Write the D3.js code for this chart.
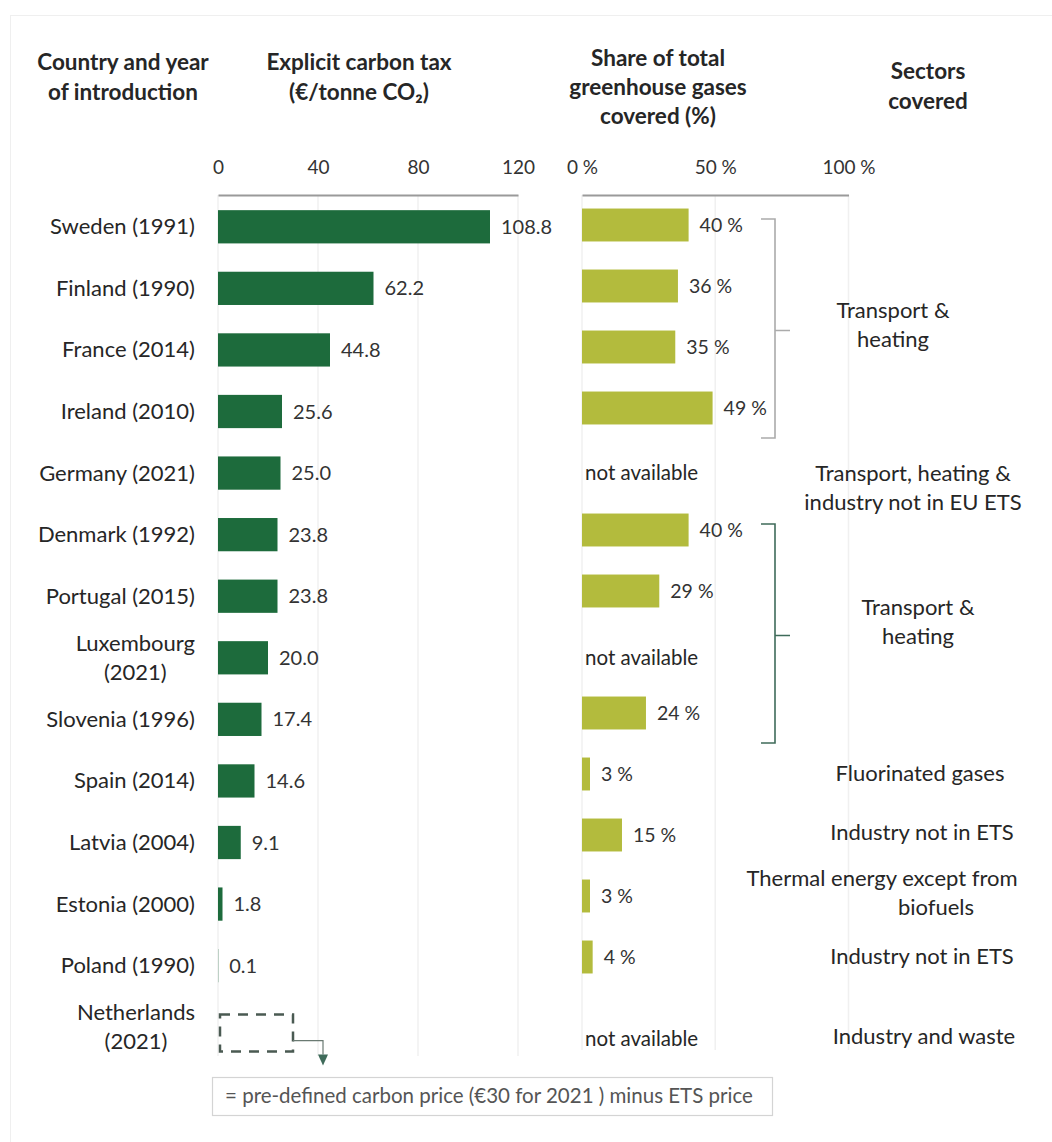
<!DOCTYPE html>
<html>
<head>
<meta charset="utf-8">
<script src="https://cdn.jsdelivr.net/npm/d3@7"></script>
<style>
  html, body { margin: 0; padding: 0; background: #fff; }
  svg { display: block; font-family: Lato, "Open Sans", sans-serif; }
</style>
</head>
<body>
<svg id="chart" width="1052" height="1142"></svg>
<script>
// Explicit carbon taxes in EU member states
const countries = ["Sweden", "Finland", "France", "Ireland", "Germany", "Denmark", "Portugal",
  "Luxembourg", "Slovenia", "Spain", "Latvia", "Estonia", "Poland", "Netherlands"];
const introYears = [1991, 1990, 2014, 2010, 2021, 1992, 2015, 2021, 1996, 2014, 2004, 2000, 1990, 2021];
// €/tonne CO2 (Netherlands: no fixed rate)
const taxRates = [108.8, 62.2, 44.8, 25.6, 25.0, 23.8, 23.8, 20.0, 17.4, 14.6, 9.1, 1.8, 0.1, null];
// share of total greenhouse gas emissions covered, %
const ghgShares = [40, 36, 35, 49, null, 40, 29, null, 24, 3, 15, 3, 4, null];
// Netherlands: pre-defined carbon price for 2021 (€), minus ETS price
const nlPredefinedPrice = 30;
const taxTicks = [0, 40, 80, 120];
const shareTicks = [0, 50, 100];
const sectorLabels = [
  ["Transport &", "heating"],
  ["Transport, heating &", "industry not in EU ETS"],
  ["Transport &", "heating"],
  ["Fluorinated gases"],
  ["Industry not in ETS"],
  ["Thermal energy except from", "biofuels"],
  ["Industry not in ETS"],
  ["Industry and waste"]
];
// first and last country row covered by each sector label
const sectorFirst = [0, 4, 5, 9, 10, 11, 12, 13];
const sectorLast  = [3, 4, 8, 9, 10, 11, 12, 13];
const headers = {
  country: ["Country and year", "of introduction"],
  tax: ["Explicit carbon tax", "(€/tonne CO₂)"],
  share: ["Share of total", "greenhouse gases", "covered (%)"],
  sectors: ["Sectors", "covered"]
};
const notAvailable = "not available";
const nlNote = "= pre-defined carbon price (€30 for 2021 ) minus ETS price";

// ---- layout ----
const DARK_GREEN = "#1d6b3c";
const OLIVE = "#b3bb3d";
const TEXT = "#262626";
const AXIS_Y = 195;

const svg = d3.select("#chart");

// faint frame
svg.append("rect").attr("x", 10.5).attr("y", 15.5).attr("width", 1100).attr("height", 1140)
  .attr("fill", "none").attr("stroke", "#efefef");

const xTax = d3.scaleLinear().domain([0, 120]).range([218, 518]);
const xShare = d3.scaleLinear().domain([0, 100]).range([582, 848.5]);
const yTax = d3.scaleBand().domain(d3.range(countries.length)).range([196, 1058])
  .paddingInner(0.46).paddingOuter(0.23);
const yShare = d3.scaleBand().domain(d3.range(countries.length)).range([194.5, 1048.5])
  .paddingInner(0.46).paddingOuter(0.23);
const midTax = i => yTax(i) + yTax.bandwidth() / 2;
const midShare = i => yShare(i) + yShare.bandwidth() / 2;

// ---- headers ----
function multiline(x, y0, lines, lh, opts = {}) {
  const t = svg.append("text")
    .attr("x", x).attr("y", y0)
    .attr("text-anchor", opts.anchor || "middle")
    .attr("font-size", opts.size || 22.5)
    .attr("font-weight", opts.weight || 700)
    .attr("fill", opts.fill || TEXT);
  lines.forEach((l, k) => t.append("tspan").attr("x", x).attr("y", y0 + k * lh).text(l));
  return t;
}
multiline(123, 70, headers.country, 30);
multiline(359, 70, headers.tax, 30);
multiline(658, 66, headers.share, 29);
multiline(928, 79, headers.sectors, 30);

// ---- gridlines ----
svg.append("g").selectAll("line").data(taxTicks).join("line")
  .attr("x1", d => xTax(d)).attr("x2", d => xTax(d))
  .attr("y1", AXIS_Y).attr("y2", 1056)
  .attr("stroke", "#f0f0f0").attr("stroke-width", 1.5);
svg.append("g").selectAll("line").data(shareTicks).join("line")
  .attr("x1", d => xShare(d)).attr("x2", d => xShare(d))
  .attr("y1", AXIS_Y).attr("y2", 1050)
  .attr("stroke", "#f0f0f0").attr("stroke-width", 1.5);

// ---- axes ----
function styleAxis(g) {
  g.select(".domain").attr("stroke", "#9a9a9a").attr("stroke-width", 2);
  g.selectAll("text").attr("font-size", 19).attr("fill", "#333").attr("font-family", "Lato, sans-serif");
}
svg.append("g").attr("transform", `translate(0,${AXIS_Y})`)
  .call(d3.axisTop(xTax).tickValues(taxTicks).tickSize(0).tickPadding(21).tickFormat(d3.format("d")))
  .call(styleAxis);
svg.append("g").attr("transform", `translate(0,${AXIS_Y})`)
  .call(d3.axisTop(xShare).tickValues(shareTicks).tickSize(0).tickPadding(21).tickFormat(d => d + " %"))
  .call(styleAxis);

// ---- country labels (wrapped like a category axis) ----
const labelRight = 195;
countries.forEach((c, i) => {
  const full = `${c} (${introYears[i]})`;
  const t = svg.append("text").attr("font-size", 22).attr("fill", TEXT)
    .attr("text-anchor", "end").attr("x", labelRight).attr("y", midTax(i) + 7.5).text(full);
  if (t.node().getComputedTextLength() > 168) {
    t.text(null).attr("text-anchor", "middle");
    t.append("tspan").text(c);
    const w = t.node().getComputedTextLength();
    const cx = labelRight - w / 2;
    t.select("tspan").attr("x", cx).attr("y", midTax(i) - 7);
    t.append("tspan").attr("x", cx).attr("y", midTax(i) + 22).text(`(${introYears[i]})`);
  }
});

// ---- carbon tax bars ----
const taxRows = taxRates.map((v, i) => ({ v, i })).filter(d => d.v !== null);
svg.append("g").selectAll("rect").data(taxRows).join("rect")
  .attr("x", xTax(0)).attr("y", d => yTax(d.i))
  .attr("width", d => xTax(d.v) - xTax(0)).attr("height", yTax.bandwidth())
  .attr("fill", DARK_GREEN);
svg.append("g").selectAll("text").data(taxRows).join("text")
  .attr("x", d => xTax(d.v) + 11).attr("y", d => midTax(d.i) + 7)
  .attr("font-size", 20).attr("fill", "#333")
  .text(d => d3.format(".1f")(d.v));

// Netherlands: dashed outline for the pre-defined price
const nl = countries.indexOf("Netherlands");
const nlTop = yTax(nl) + 4, nlH = 37;
svg.append("rect")
  .attr("x", xTax(0) + 2).attr("y", nlTop)
  .attr("width", xTax(nlPredefinedPrice) - xTax(0) - 2).attr("height", nlH)
  .attr("fill", "none").attr("stroke", "#4a5a52").attr("stroke-width", 2.5)
  .attr("stroke-dasharray", "10,8");
const cX = xTax(nlPredefinedPrice), cY = nlTop + 26, aX = cX + 30;
svg.append("path")
  .attr("d", `M${cX},${cY} H${aX} V${cY + 14}`)
  .attr("fill", "none").attr("stroke", "#6a7a72").attr("stroke-width", 1.2);
svg.append("path")
  .attr("d", `M${aX - 5},${cY + 14} L${aX + 5},${cY + 14} L${aX},${cY + 25} Z`)
  .attr("fill", "#3f6b5a");

// note box
svg.append("rect").attr("x", 212.5).attr("y", 1077.5).attr("width", 560).attr("height", 38)
  .attr("fill", "#fff").attr("stroke", "#d4d4d4").attr("stroke-width", 1.2);
svg.append("text").attr("x", 225).attr("y", 1103).attr("font-size", 20.5).attr("fill", "#555")
  .text(nlNote);

// ---- GHG share bars ----
const shareRows = ghgShares.map((v, i) => ({ v, i })).filter(d => d.v !== null);
svg.append("g").selectAll("rect").data(shareRows).join("rect")
  .attr("x", xShare(0)).attr("y", d => yShare(d.i))
  .attr("width", d => xShare(d.v) - xShare(0)).attr("height", yShare.bandwidth())
  .attr("fill", OLIVE);
svg.append("g").selectAll("text").data(shareRows).join("text")
  .attr("x", d => xShare(d.v) + 11).attr("y", d => midShare(d.i) + 6.5)
  .attr("font-size", 19.5).attr("fill", "#333")
  .text(d => d.v + " %");
const naRows = ghgShares.map((v, i) => ({ v, i })).filter(d => d.v === null);
svg.append("g").selectAll("text").data(naRows).join("text")
  .attr("x", 585)
  .attr("y", d => (d.i === nl ? midTax(d.i) + 19 : midTax(d.i) + 7))
  .attr("font-size", 20.5).attr("fill", TEXT)
  .text(notAvailable);

// ---- sector brackets ----
const bracketColors = { 0: "#ababab", 2: "#3f6b5a" };
Object.keys(bracketColors).forEach(k => {
  const g = +k;
  const top = midShare(sectorFirst[g]) - 6;
  const bot = midShare(sectorLast[g]) + 30;
  const mid = (top + bot) / 2 + 2;
  const bx = 775;
  svg.append("path")
    .attr("d", `M${bx - 14},${top} H${bx} V${bot} H${bx - 14} M${bx},${mid} H${bx + 15}`)
    .attr("fill", "none").attr("stroke", bracketColors[k]).attr("stroke-width", 1.6);
});

// ---- sector labels ----
const sectorPlace = [
  { x: [893, 893], dy: 9 },
  { x: [913, 913], dy: 19 },
  { x: [918, 918], dy: 1 },
  { x: [920, 920], dy: 0 },
  { x: [922, 922], dy: -2 },
  { x: [882, 936], dy: -3 },
  { x: [922, 922], dy: 0 },
  { x: [924, 924], dy: 19 }
];
sectorLabels.forEach((lines, g) => {
  const y0 = (midShare(sectorFirst[g]) + midShare(sectorLast[g])) / 2 + sectorPlace[g].dy;
  const lh = 29;
  const start = y0 - (lines.length - 1) * lh / 2 + 7;
  const t = svg.append("text").attr("font-size", 22).attr("fill", TEXT).attr("text-anchor", "middle");
  lines.forEach((l, k) => {
    t.append("tspan").attr("x", sectorPlace[g].x[k]).attr("y", start + k * lh).text(l);
  });
});
</script>
</body>
</html>
